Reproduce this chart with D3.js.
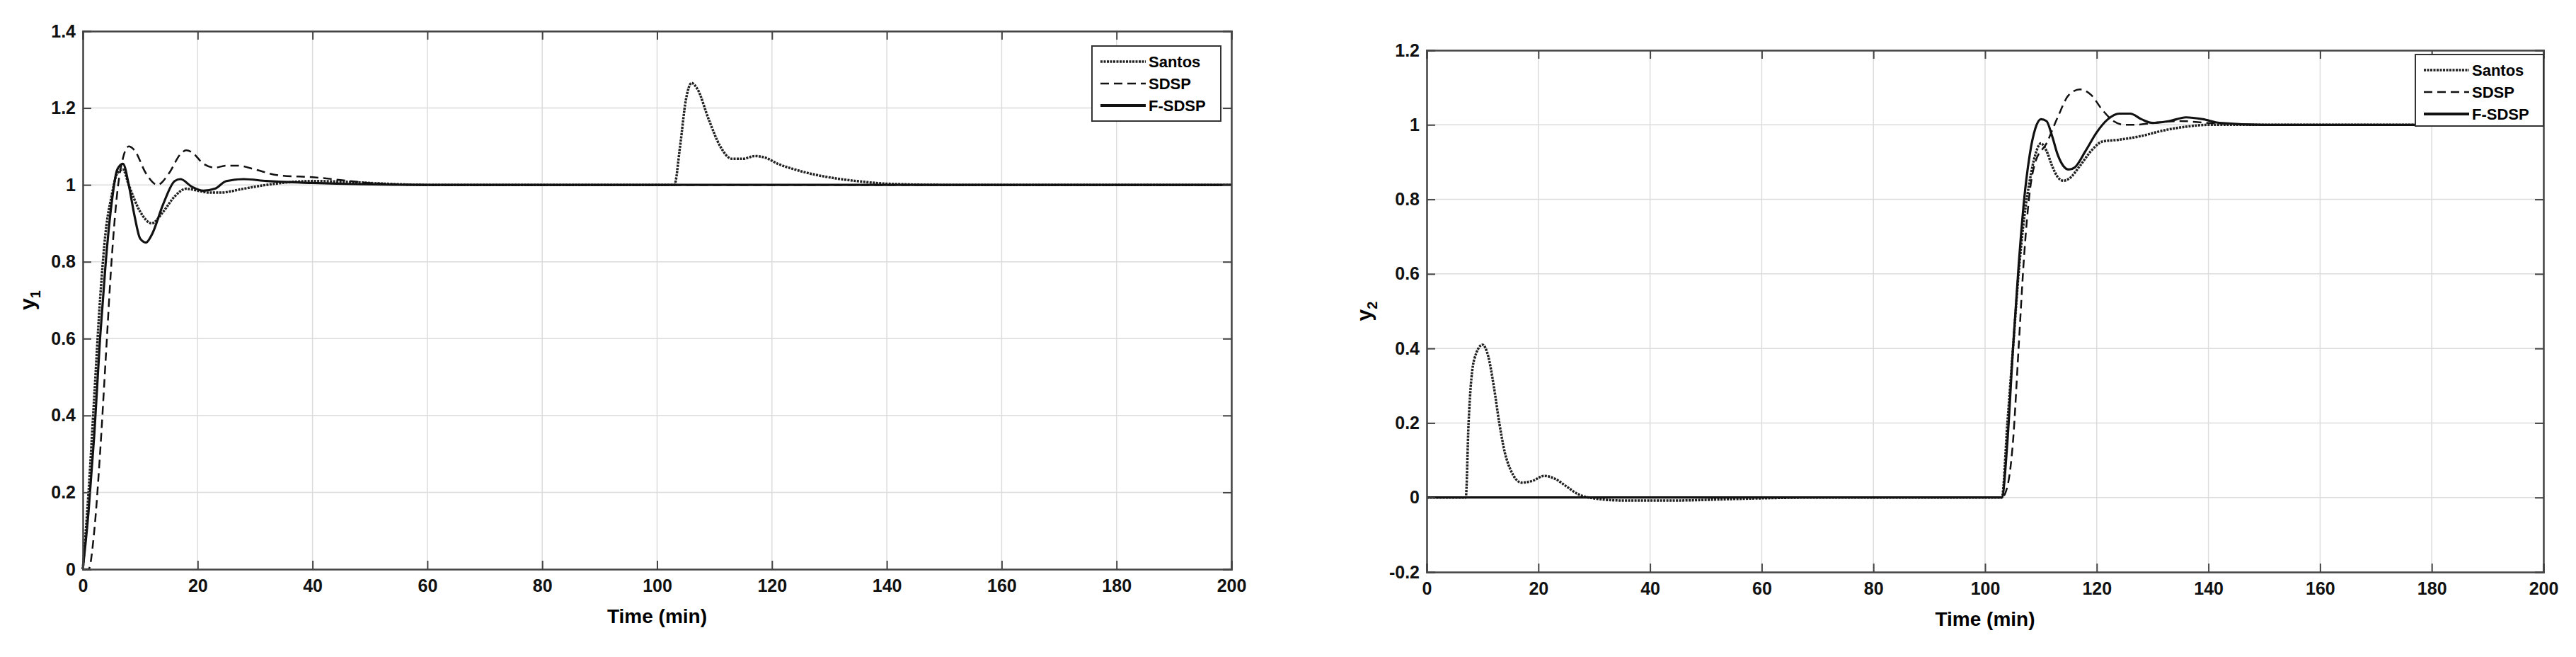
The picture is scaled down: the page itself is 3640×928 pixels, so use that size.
<!DOCTYPE html><html><head><meta charset="utf-8"><script src="https://cdn.jsdelivr.net/npm/d3@7"></script>
<style>body{margin:0;background:#fff}text{font-family:"Liberation Sans Narrow","Arial Narrow","Liberation Sans",sans-serif;font-weight:bold}</style></head><body>
<svg id="c" width="3640" height="928"></svg>
<script>
const seriesNames=["Santos","SDSP","F-SDSP"];
const xTicks=[0,20,40,60,80,100,120,140,160,180,200];
const y1Ticks=[0,0.2,0.4,0.6,0.8,1,1.2,1.4];
const y2Ticks=[-0.2,0,0.2,0.4,0.6,0.8,1,1.2];
const y1Santos=[[0,0],[1,0.2],[2,0.45],[3,0.7],[4,0.88],[5,0.97],[6,1.03],[7,1.04],[8,1.0],[10,0.93],[12,0.9],[14,0.93],[16,0.97],[18,0.99],[20,0.985],[22,0.98],[24,0.98],[28,0.99],[32,1.0],[40,1.01],[60,1.0],[103,1.0],[104,1.1],[105,1.22],[106,1.265],[107,1.25],[109,1.17],[111,1.1],[113,1.068],[115,1.068],[117,1.075],[119,1.07],[121,1.055],[124,1.04],[128,1.025],[132,1.015],[136,1.008],[140,1.003],[150,1.0],[200,1.0]];
const y1SDSP=[[0,0],[1,0],[2,0.1],[3,0.3],[4,0.55],[5,0.8],[6,0.98],[7,1.07],[8,1.1],[9,1.09],[11,1.03],[13,1.0],[15,1.03],[17,1.08],[18,1.09],[19,1.085],[21,1.055],[23,1.045],[25,1.05],[27,1.05],[30,1.04],[34,1.025],[40,1.02],[50,1.005],[60,1.0],[200,1.0]];
const y1FSDSP=[[0,0],[1,0.15],[2,0.35],[3,0.6],[4,0.8],[5,0.95],[6,1.04],[7,1.055],[8,1.0],[9,0.92],[10,0.86],[11,0.85],[12,0.87],[14,0.95],[16,1.01],[17,1.015],[19,0.995],[21,0.985],[23,0.99],[25,1.01],[28,1.015],[32,1.01],[40,1.005],[60,1.0],[200,1.0]];
const y2Santos=[[0,0],[7,0],[7.5,0.2],[8.5,0.37],[10,0.41],[11,0.38],[12,0.3],[13,0.2],[14,0.12],[15,0.075],[17,0.04],[19,0.045],[21,0.058],[23,0.05],[25,0.03],[27,0.01],[29,0],[35,-0.008],[45,-0.008],[55,-0.004],[70,0],[103,0],[104,0.2],[105,0.4],[106,0.6],[107,0.75],[108,0.85],[109,0.92],[110,0.95],[111,0.93],[112,0.89],[113,0.86],[114,0.85],[115,0.855],[117,0.89],[119,0.93],[121,0.955],[124,0.96],[128,0.97],[132,0.985],[136,0.995],[140,1.0],[200,1.0]];
const y2SDSP=[[0,0],[103,0],[104,0.03],[105,0.15],[106,0.4],[107,0.65],[108,0.82],[109,0.9],[111,0.95],[113,1.02],[115,1.08],[117,1.095],[119,1.08],[121,1.04],[123,1.01],[125,1.0],[127,1.0],[130,1.005],[135,1.01],[140,1.005],[150,1.0],[200,1.0]];
const y2FSDSP=[[0,0],[103,0],[104,0.15],[105,0.4],[106,0.62],[107,0.8],[108,0.92],[109,0.99],[110,1.015],[111,1.01],[112,0.97],[113,0.92],[114,0.89],[115,0.88],[116,0.885],[118,0.93],[120,0.98],[122,1.015],[124,1.03],[126,1.03],[128,1.015],[130,1.005],[133,1.01],[136,1.02],[139,1.015],[142,1.005],[150,1.0],[200,1.0]];
const styles=[{w:3.5,d:"3,1.5",c:"#222"},{w:2.5,d:"12,7",c:"#111"},{w:3.2,d:null,c:"#111"}];
const svg=d3.select("#c");
function panel(o){
  const x=d3.scaleLinear().domain([0,200]).range([o.l,o.r]);
  const y=d3.scaleLinear().domain(o.yd).range([o.b,o.t]);
  const g=svg.append("g");
  g.append("rect").attr("x",o.l).attr("y",o.t).attr("width",o.r-o.l).attr("height",o.b-o.t).attr("fill","#fff");
  g.selectAll(".gx").data(xTicks).join("line").attr("x1",d=>x(d)).attr("x2",d=>x(d)).attr("y1",o.t).attr("y2",o.b).attr("stroke","#dcdcdc").attr("stroke-width",1.5);
  g.selectAll(".gy").data(o.yt).join("line").attr("y1",d=>y(d)).attr("y2",d=>y(d)).attr("x1",o.l).attr("x2",o.r).attr("stroke","#dcdcdc").attr("stroke-width",1.5);
  const line=d3.line().x(d=>x(d[0])).y(d=>y(d[1])).curve(d3.curveMonotoneX);
  o.data.forEach((s,i)=>g.append("path").attr("d",line(s)).attr("fill","none").attr("stroke",styles[i].c).attr("stroke-width",styles[i].w).attr("stroke-dasharray",styles[i].d));
  const ax=d3.axisBottom(x).tickValues(xTicks).tickSize(-12).tickPadding(14).tickFormat(d3.format("d"));
  const axT=d3.axisTop(x).tickValues(xTicks).tickSize(-12).tickFormat("");
  const ay=d3.axisLeft(y).tickValues(o.yt).tickSize(-12).tickPadding(10).tickFormat(d=>String(+d.toFixed(1)));
  const ayR=d3.axisRight(y).tickValues(o.yt).tickSize(-12).tickFormat("");
  [[ax,`translate(0,${o.b})`],[axT,`translate(0,${o.t})`],[ay,`translate(${o.l},0)`],[ayR,`translate(${o.r},0)`]].forEach(([a,t])=>{
    const e=g.append("g").attr("transform",t).call(a);
    e.select(".domain").attr("stroke","#444").attr("stroke-width",2.5);
    e.selectAll(".tick line").attr("stroke","#444").attr("stroke-width",2);
    e.selectAll("text").attr("font-size",25).attr("fill","#111");
  });
  g.append("text").attr("x",(o.l+o.r)/2).attr("y",o.b+76).attr("text-anchor","middle").attr("font-size",28).text("Time (min)");
  const yl=g.append("text").attr("transform",`translate(${o.l-o.yo},${(o.t+o.b)/2}) rotate(-90)`).attr("text-anchor","middle").attr("font-size",30);
  yl.append("tspan").text("y");yl.append("tspan").attr("font-size",20).attr("dy",8).text(o.sub);
  const L=o.leg;
  g.append("rect").attr("x",L.x).attr("y",L.y).attr("width",L.w).attr("height",L.h).attr("fill","#fff").attr("stroke","#333").attr("stroke-width",2);
  seriesNames.forEach((n,i)=>{const yy=L.y+22+i*31;
    g.append("line").attr("x1",L.x+12).attr("x2",L.x+76).attr("y1",yy).attr("y2",yy).attr("stroke",styles[i].c).attr("stroke-width",styles[i].w+ (i==2?1:0)).attr("stroke-dasharray",styles[i].d);
    g.append("text").attr("x",L.x+80).attr("y",yy+8).attr("font-size",22).text(n);});
}
panel({l:117,r:1740,t:44,b:804,yd:[0,1.4],yt:y1Ticks,sub:"1",yo:68,data:[y1Santos,y1SDSP,y1FSDSP],leg:{x:1543,y:65,w:182,h:106}});
panel({l:2016,r:3594,t:71,b:808,yd:[-0.2,1.2],yt:y2Ticks,sub:"2",yo:78,data:[y2Santos,y2SDSP,y2FSDSP],leg:{x:3413,y:77,w:181,h:101}});
</script></body></html>
